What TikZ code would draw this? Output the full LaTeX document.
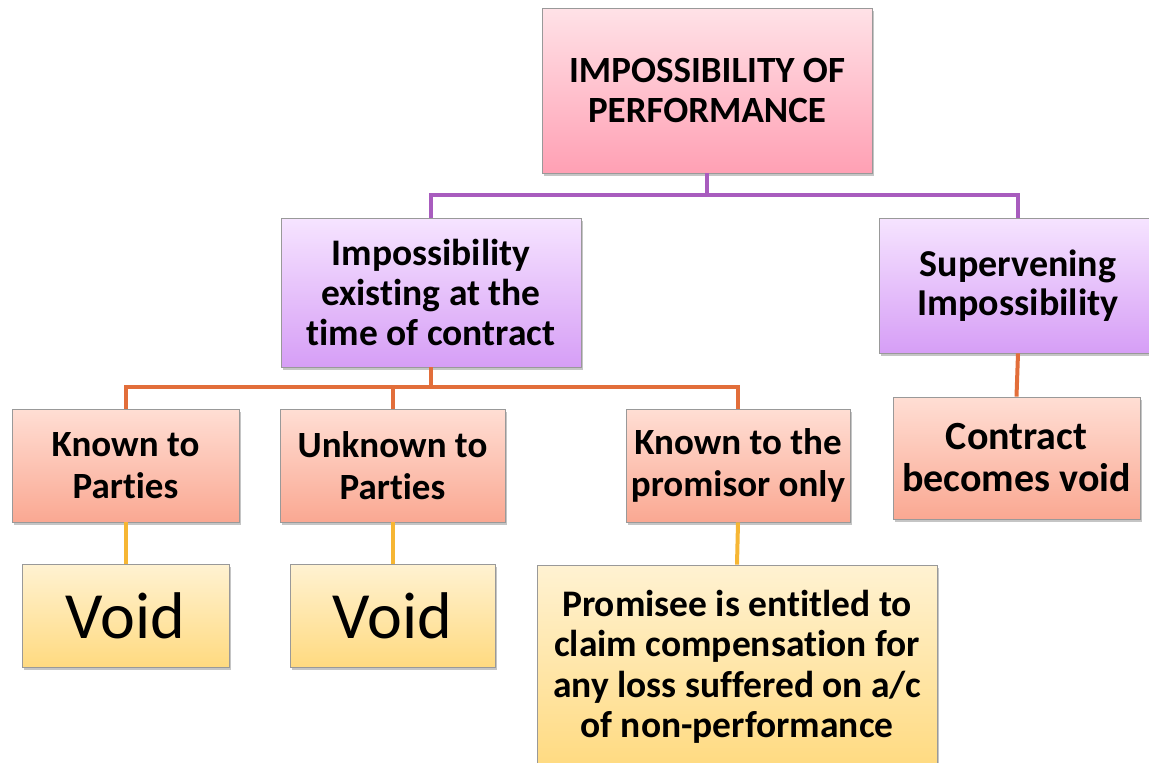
\documentclass[tikz,border=0pt]{standalone}
\usepackage{fontspec}
\setmainfont{Carlito}[Ligatures=NoCommon]
\usetikzlibrary{shadows}

\definecolor{pinktop}{RGB}{255,226,231}
\definecolor{pinkbot}{RGB}{255,160,180}
\definecolor{liltop}{RGB}{246,228,255}
\definecolor{lilbot}{RGB}{214,158,246}
\definecolor{salmtop}{RGB}{255,222,212}
\definecolor{salmbot}{RGB}{250,168,146}
\definecolor{creamtop}{RGB}{255,242,210}
\definecolor{creambot}{RGB}{255,218,128}
\definecolor{purpline}{RGB}{168,92,190}
\definecolor{orgline}{RGB}{226,110,58}
\definecolor{yelline}{RGB}{246,182,52}

\tikzset{
  box/.style={draw=black!40, line width=0.8pt, inner sep=0pt, align=center,
     font=\bfseries,
     drop shadow={shadow xshift=2pt, shadow yshift=-3pt, fill=black!45, opacity=0.5}},
  pinkbox/.style={box, top color=pinktop, bottom color=pinkbot},
  lilbox/.style={box, top color=liltop, bottom color=lilbot},
  salmbox/.style={box, top color=salmtop, bottom color=salmbot},
  creambox/.style={box, top color=creamtop, bottom color=creambot},
  link/.style={line width=4pt}
}

\begin{document}
\begin{tikzpicture}[x=1pt, y=-1pt]
\useasboundingbox (0,0) rectangle (1149,763);

% top level
\node[pinkbox, minimum width=330pt, minimum height=165pt,
      font=\bfseries\fontsize{37}{40}\selectfont] (perf) at (707,90.5)
      {IMPOSSIBILITY OF\\PERFORMANCE};

% second level
\node[lilbox, minimum width=300pt, minimum height=149pt,
      font=\bfseries\fontsize{37.5}{40}\selectfont] (initial) at (431,292.5)
      {Impossibility\\existing at the\\time of contract};
\node[lilbox, minimum width=278pt, minimum height=135pt,
      font=\bfseries\fontsize{38}{39}\selectfont] (superv) at (1018,285.5)
      {Supervening\\Impossibility};

% third level
\node[salmbox, minimum width=227pt, minimum height=113pt,
      font=\bfseries\fontsize{37}{42}\selectfont] (known) at (125.5,465.5)
      {Known to\\Parties};
\node[salmbox, minimum width=225pt, minimum height=113pt,
      font=\bfseries\fontsize{37}{42}\selectfont] (unknown) at (392.5,465.5)
      {Unknown to\\Parties};
\node[salmbox, minimum width=224pt, minimum height=113pt,
      font=\bfseries\fontsize{37}{42}\selectfont] (promisor) at (738,465.5)
      {Known to the\\promisor only};
\node[salmbox, minimum width=247pt, minimum height=122pt,
      font=\bfseries\fontsize{40}{42}\selectfont] (contract) at (1016.5,458)
      {Contract\\becomes void};

% results
\node[creambox, minimum width=207pt, minimum height=103pt,
      font=\fontsize{66}{70}\selectfont] (void1) at (125.5,615.5) {Void};
\node[creambox, minimum width=205pt, minimum height=103pt,
      font=\fontsize{66}{70}\selectfont] (void2) at (392.5,615.5) {Void};
\node[creambox, minimum width=400pt, minimum height=204pt,
      font=\bfseries\fontsize{37.5}{40.5}\selectfont] (claim) at (737,667)
      {Promisee is entitled to\\claim compensation for\\any loss suffered on a/c\\of non-performance};

% connectors
\coordinate (bus1) at (707,195);
\coordinate (bus2) at (431,387);
\draw[link, purpline] (perf.south) -- (bus1);
\draw[link, purpline] (initial.north) |- (bus1) -| (superv.north);
\draw[link, orgline] (initial.south) -- (bus2);
\draw[link, orgline] (known.north) |- (bus2) -| (promisor.north);
\draw[link, orgline] (unknown.north) -- (unknown.north |- bus2);
\draw[link, orgline] (superv.south) -- (contract.north);
\draw[link, yelline] (known.south) -- (void1.north);
\draw[link, yelline] (unknown.south) -- (void2.north);
\draw[link, yelline] (promisor.south) -- (claim.north);
\end{tikzpicture}
\end{document}
